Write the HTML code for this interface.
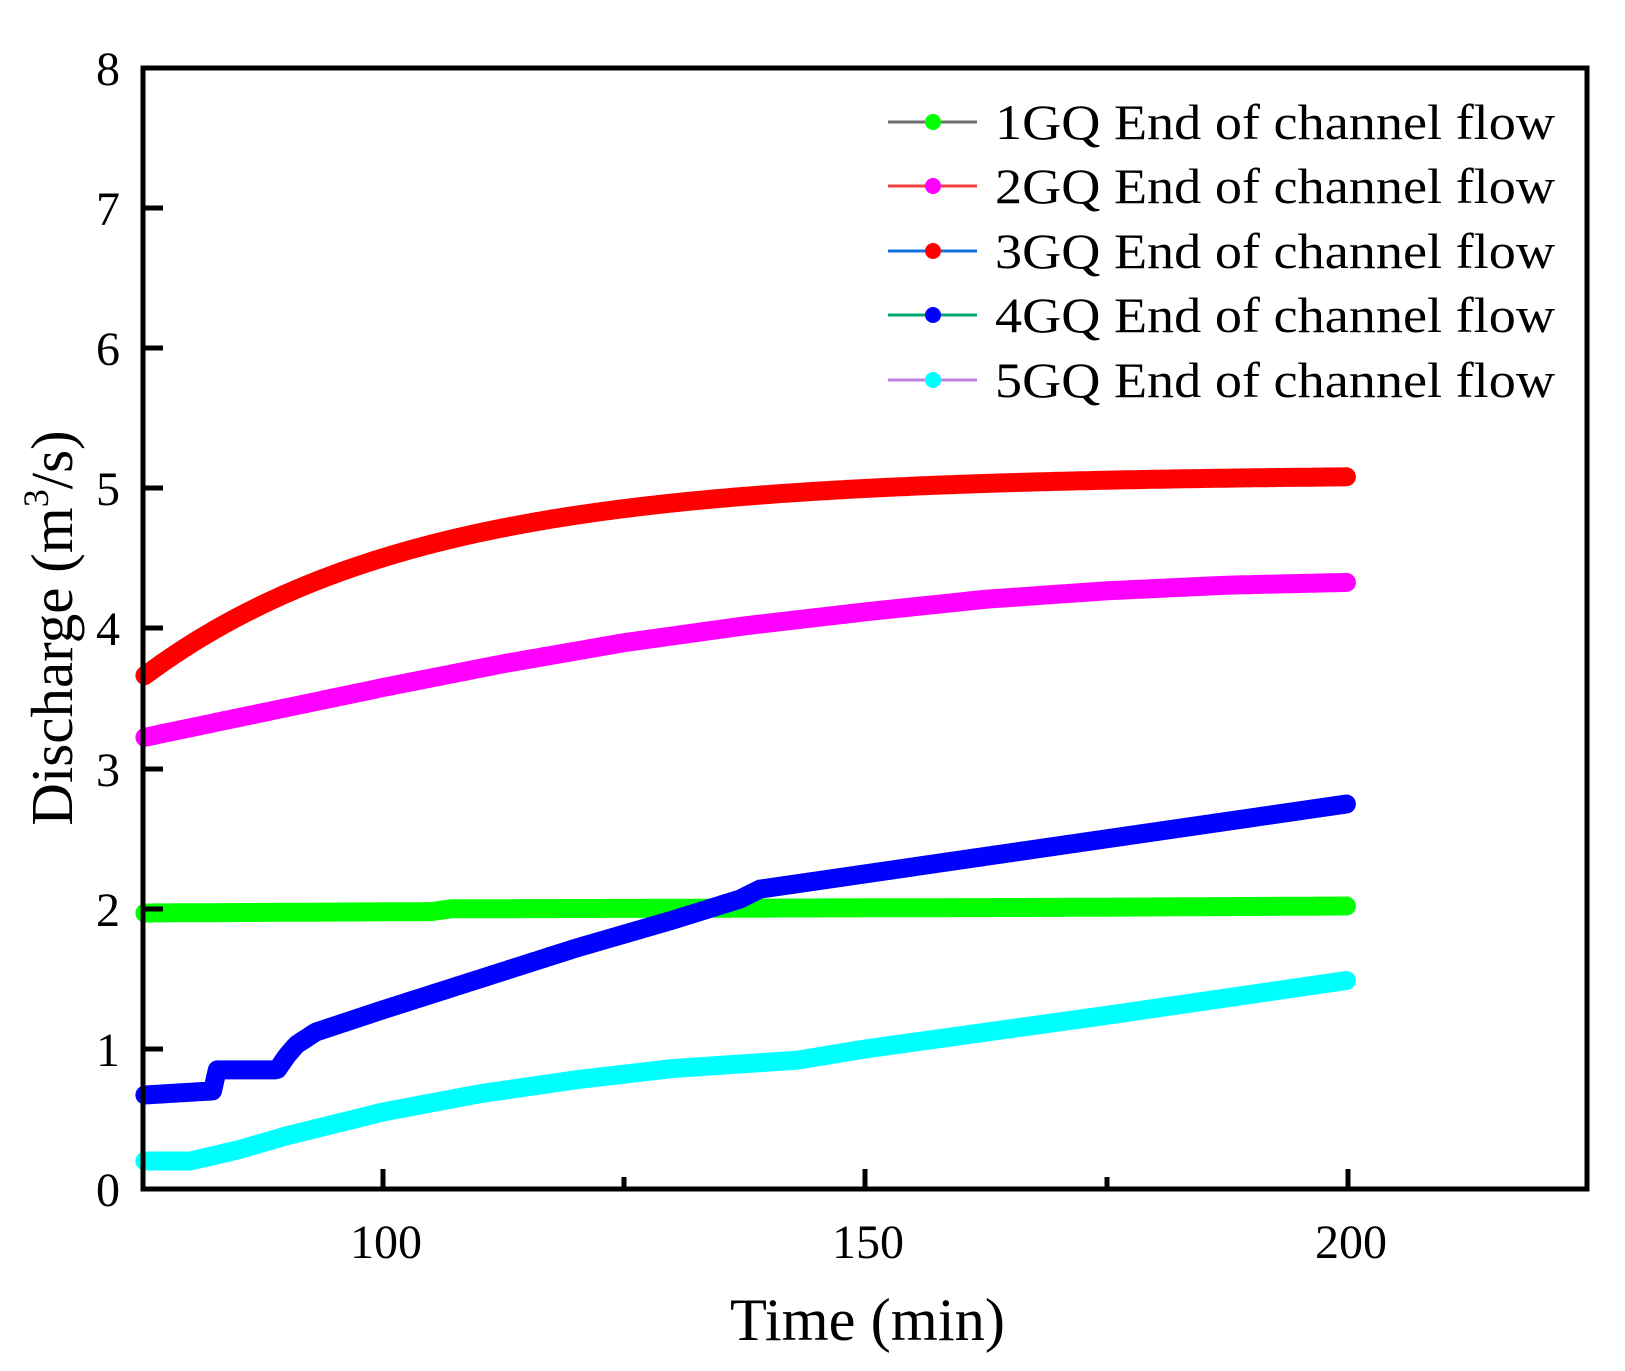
<!DOCTYPE html>
<html><head><meta charset="utf-8"><style>
html,body{margin:0;padding:0;background:#fff;}
svg{display:block;}
text{font-family:"Liberation Serif",serif;fill:#000;}
</style></head><body>
<svg id="s" width="1625" height="1371" viewBox="0 0 1625 1371" xmlns="http://www.w3.org/2000/svg">
<rect width="1625" height="1371" fill="#fff"/>
<g id="series"></g>
<rect x="143" y="68" width="1444" height="1121" fill="none" stroke="#000" stroke-width="5"/>
<g stroke="#000" stroke-width="5">
<line x1="383" y1="1189" x2="383" y2="1169"/>
<line x1="624" y1="1189" x2="624" y2="1177"/>
<line x1="865" y1="1189" x2="865" y2="1169"/>
<line x1="1107" y1="1189" x2="1107" y2="1177"/>
<line x1="1348" y1="1189" x2="1348" y2="1169"/>
<line x1="143" y1="1049" x2="163" y2="1049"/>
<line x1="143" y1="909" x2="163" y2="909"/>
<line x1="143" y1="769" x2="163" y2="769"/>
<line x1="143" y1="628" x2="163" y2="628"/>
<line x1="143" y1="488" x2="163" y2="488"/>
<line x1="143" y1="348" x2="163" y2="348"/>
<line x1="143" y1="208" x2="163" y2="208"/>
</g>
<g font-size="48" text-anchor="middle">
<text x="386" y="1258">100</text>
<text x="868" y="1258">150</text>
<text x="1351" y="1258">200</text>
</g>
<g font-size="48" text-anchor="end">
<text x="120" y="1206">0</text>
<text x="120" y="1066">1</text>
<text x="120" y="926">2</text>
<text x="120" y="786">3</text>
<text x="120" y="645">4</text>
<text x="120" y="505">5</text>
<text x="120" y="365">6</text>
<text x="120" y="225">7</text>
<text x="120" y="85">8</text>
</g>
<text x="730" y="1340" font-size="60" textLength="275" lengthAdjust="spacingAndGlyphs">Time (min)</text>
<text transform="translate(72,628) rotate(-90)" font-size="59" text-anchor="middle">Discharge (m<tspan font-size="36" dy="-24">3</tspan><tspan dy="24">/s)</tspan></text>
<g font-size="50">
<line x1="888" y1="122" x2="977" y2="122" stroke="#707070" stroke-width="3"/><circle cx="933" cy="122" r="8" fill="#00ff00"/>
<text x="995" y="139" textLength="560" lengthAdjust="spacingAndGlyphs">1GQ End of channel flow</text>
<line x1="888" y1="186" x2="977" y2="186" stroke="#f04040" stroke-width="3"/><circle cx="933" cy="186" r="8" fill="#ff00ff"/>
<text x="995" y="203" textLength="560" lengthAdjust="spacingAndGlyphs">2GQ End of channel flow</text>
<line x1="888" y1="251" x2="977" y2="251" stroke="#1070e0" stroke-width="3"/><circle cx="933" cy="251" r="8" fill="#ff0000"/>
<text x="995" y="268" textLength="560" lengthAdjust="spacingAndGlyphs">3GQ End of channel flow</text>
<line x1="888" y1="315" x2="977" y2="315" stroke="#00a870" stroke-width="3"/><circle cx="933" cy="315" r="8" fill="#0000ff"/>
<text x="995" y="332" textLength="560" lengthAdjust="spacingAndGlyphs">4GQ End of channel flow</text>
<line x1="888" y1="380" x2="977" y2="380" stroke="#c080e0" stroke-width="3"/><circle cx="933" cy="380" r="8" fill="#00ffff"/>
<text x="995" y="397" textLength="560" lengthAdjust="spacingAndGlyphs">5GQ End of channel flow</text>
</g>
</svg>
<script>
(function(){
var X=function(t){return 143+(t-75.1)*9.65;}, Y=function(v){return 1189-v*140.1;};
function interp(pts,t){for(var i=0;i<pts.length-1;i++){if(t<=pts[i+1][0]){var a=pts[i],b=pts[i+1];return a[1]+(b[1]-a[1])*(t-a[0])/(b[0]-a[0]);}}return pts[pts.length-1][1];}
var series=[
{c:"#00ff00",f:function(t){return interp([[75,1.97],[105,1.98],[107,2.0],[170,2.01],[200,2.02]],t);}},
{c:"#ff00ff",f:function(t){return interp([[75,3.22],[87.5,3.4],[100,3.58],[112.5,3.75],[125,3.9],[137.5,4.02],[150,4.12],[162.5,4.21],[175,4.27],[187.5,4.31],[200,4.33]],t);}},
{c:"#ff0000",f:function(t){return 5.1-1.45*Math.exp(-(t-75)/28);}},
{c:"#0000ff",f:function(t){return interp([[75,0.67],[82.3,0.7],[82.8,0.85],[89,0.85],[90,0.95],[91,1.03],[93,1.12],[100,1.28],[110,1.5],[120,1.72],[130,1.92],[137,2.07],[139,2.14],[150,2.25],[175,2.5],[200,2.75]],t);}},
{c:"#00ffff",f:function(t){return interp([[75,0.2],[80,0.2],[85,0.28],[90,0.38],[100,0.55],[110,0.68],[120,0.78],[130,0.86],[143,0.92],[150,1.0],[175,1.24],[200,1.49]],t);}}
];
var g=document.getElementById("series"),h="";
series.forEach(function(s){
  var pts=[];for(var t=75.3;t<=200.001;t+=0.25){pts.push(X(t).toFixed(1)+","+Y(s.f(t)).toFixed(1));}
  h+='<polyline points="'+pts.join(" ")+'" fill="none" stroke="'+s.c+'" stroke-width="19" stroke-linecap="round" stroke-linejoin="round"/>';
});
g.innerHTML=h;
})();
</script>
</body></html>
